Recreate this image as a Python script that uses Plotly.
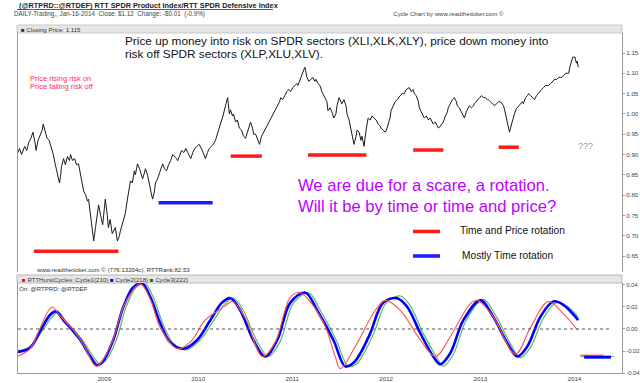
import plotly.graph_objects as go

# ---------------- data ----------------
price_dates = [
 "2008-02-01","2008-02-07","2008-02-15","2008-02-27","2008-03-06","2008-03-14","2008-03-22","2008-03-30",
 "2008-04-07","2008-04-11","2008-04-19","2008-04-27","2008-05-05","2008-05-09","2008-05-13","2008-05-21",
 "2008-05-24","2008-06-01","2008-06-09","2008-06-17","2008-06-25","2008-07-03","2008-07-11","2008-07-15",
 "2008-07-19","2008-07-27","2008-08-03","2008-08-11","2008-08-19","2008-08-23","2008-08-31","2008-09-08",
 "2008-09-15","2008-09-23","2008-10-01","2008-10-09","2008-10-13","2008-10-21","2008-10-28","2008-11-01",
 "2008-11-09","2008-11-17","2008-11-21","2008-11-28","2008-12-06","2008-12-10","2008-12-18","2008-12-26",
 "2009-01-01","2009-01-05","2009-01-13","2009-01-17","2009-01-24","2009-02-01","2009-02-05","2009-02-13",
 "2009-02-21","2009-03-01","2009-03-04","2009-03-12","2009-03-20","2009-03-24","2009-04-01","2009-04-09",
 "2009-04-13","2009-04-20","2009-04-28","2009-05-02","2009-05-10","2009-05-18","2009-05-26","2009-05-30",
 "2009-06-06","2009-06-10","2009-06-18","2009-06-26","2009-07-04","2009-07-08","2009-07-15","2009-07-19",
 "2009-07-27","2009-08-04","2009-08-12","2009-08-16","2009-08-23","2009-08-31","2009-09-08","2009-09-16",
 "2009-09-24","2009-10-02","2009-10-09","2009-10-13","2009-10-21","2009-10-29","2009-11-06","2009-11-14",
 "2009-11-21","2009-11-29","2009-12-03","2009-12-11","2009-12-19","2009-12-27",
 "2010-01-05","2010-01-17","2010-01-25","2010-01-29","2010-02-06","2010-02-13","2010-02-21","2010-03-01",
 "2010-03-09","2010-03-17","2010-03-24","2010-03-28","2010-04-05","2010-04-13","2010-04-21","2010-04-25",
 "2010-04-28","2010-05-02","2010-05-06","2010-05-14","2010-05-18","2010-05-26","2010-06-02","2010-06-10",
 "2010-06-18","2010-06-26","2010-07-04","2010-07-11","2010-07-19","2010-07-23","2010-07-31","2010-08-04",
 "2010-08-12","2010-08-20","2010-08-27","2010-09-04","2010-09-12","2010-09-20","2010-09-28","2010-10-05",
 "2010-10-13","2010-10-21","2010-10-29","2010-11-06","2010-11-13","2010-11-17","2010-11-25","2010-12-03",
 "2010-12-11","2010-12-19","2010-12-26",
 "2011-01-03","2011-01-11","2011-01-19","2011-01-23","2011-01-31","2011-02-03","2011-02-11","2011-02-19",
 "2011-02-23","2011-02-27","2011-03-07","2011-03-15","2011-03-22","2011-03-30","2011-04-03","2011-04-11",
 "2011-04-19","2011-04-26","2011-04-30","2011-05-08","2011-05-16","2011-05-20","2011-05-28","2011-06-04",
 "2011-06-12","2011-06-20","2011-06-24","2011-07-02","2011-07-10","2011-07-13","2011-07-21","2011-07-29",
 "2011-08-02","2011-08-10","2011-08-18","2011-08-25","2011-08-29","2011-09-06","2011-09-10","2011-09-18",
 "2011-09-25","2011-09-29","2011-10-07","2011-10-15","2011-10-23","2011-10-31","2011-11-07","2011-11-15",
 "2011-11-23","2011-12-01","2011-12-09","2011-12-12","2011-12-20","2011-12-28",
 "2012-01-02","2012-01-09","2012-01-16","2012-01-20","2012-01-28","2012-02-05","2012-02-13","2012-02-17",
 "2012-02-24","2012-03-03","2012-03-11","2012-03-19","2012-03-27","2012-03-31","2012-04-07","2012-04-15",
 "2012-04-19","2012-04-27","2012-05-05","2012-05-09","2012-05-16","2012-05-24","2012-05-28","2012-06-05",
 "2012-06-13","2012-06-20","2012-06-24","2012-07-02","2012-07-10","2012-07-18","2012-07-22","2012-07-29",
 "2012-08-06","2012-08-10","2012-08-18","2012-08-26","2012-08-29","2012-09-06","2012-09-14","2012-09-22",
 "2012-09-30","2012-10-03","2012-10-11","2012-10-19","2012-10-27","2012-10-31","2012-11-07","2012-11-15",
 "2012-11-19","2012-11-27","2012-12-05","2012-12-08","2012-12-16","2012-12-24",
 "2013-01-01","2013-01-05","2013-01-13","2013-01-20","2013-01-28","2013-02-01","2013-02-09","2013-02-17",
 "2013-02-25","2013-03-04","2013-03-12","2013-03-20","2013-03-24","2013-04-01","2013-04-05","2013-04-12",
 "2013-04-16","2013-04-20","2013-04-24","2013-04-28","2013-05-02","2013-05-09","2013-05-13","2013-05-21",
 "2013-05-29","2013-06-06","2013-06-13","2013-06-17","2013-06-25","2013-07-03","2013-07-07","2013-07-15",
 "2013-07-22","2013-07-30","2013-08-07","2013-08-15","2013-08-23","2013-08-27","2013-09-03","2013-09-11",
 "2013-09-19","2013-09-23","2013-10-01","2013-10-09","2013-10-16","2013-10-24","2013-11-01","2013-11-09",
 "2013-11-13","2013-11-21","2013-11-28","2013-12-06","2013-12-10","2013-12-14","2013-12-18","2013-12-22",
 "2013-12-26","2013-12-30","2014-01-03","2014-01-09","2014-01-12","2014-01-16",
]
price_vals = [
 0.905,0.915,0.900,0.920,0.910,0.930,0.940,0.955,
 0.930,0.910,0.935,0.950,0.960,0.975,0.965,0.950,
 0.940,0.935,0.920,0.900,0.875,0.855,0.830,0.845,
 0.870,0.890,0.875,0.895,0.885,0.900,0.885,0.890,
 0.875,0.877,0.850,0.820,0.810,0.800,0.785,0.790,
 0.750,0.720,0.687,0.720,0.760,0.776,0.750,0.727,
 0.765,0.790,0.750,0.720,0.740,0.705,0.710,0.720,
 0.687,0.700,0.710,0.730,0.745,0.755,0.790,0.815,
 0.835,0.830,0.860,0.850,0.877,0.865,0.850,0.840,
 0.855,0.865,0.850,0.820,0.800,0.790,0.810,0.830,
 0.840,0.855,0.870,0.877,0.865,0.860,0.875,0.885,
 0.900,0.895,0.890,0.885,0.900,0.910,0.905,0.915,
 0.905,0.895,0.890,0.905,0.915,0.920,
 0.925,0.910,0.895,0.890,0.905,0.915,0.920,0.925,
 0.935,0.955,0.965,0.975,0.990,1.010,1.030,1.040,
 1.025,1.000,1.010,0.995,1.000,0.980,0.985,0.965,
 0.960,0.945,0.940,0.955,0.970,0.980,0.965,0.950,
 0.950,0.935,0.925,0.945,0.955,0.965,0.975,0.980,
 0.990,1.000,1.010,1.020,1.030,1.040,1.035,1.045,
 1.055,1.060,1.055,
 1.065,1.070,1.075,1.070,1.085,1.090,1.100,1.115,
 1.105,1.090,1.080,1.085,1.090,1.080,1.085,1.075,
 1.070,1.055,1.050,1.040,1.030,1.008,1.015,1.005,
 0.990,1.000,1.020,1.040,1.030,1.025,1.035,1.020,
 1.000,0.985,0.960,0.935,0.925,0.945,0.960,0.955,
 0.935,0.945,0.920,0.960,0.990,0.985,0.995,0.990,
 0.985,0.975,0.970,0.965,0.960,0.955,
 0.960,0.975,0.990,1.008,1.020,1.030,1.035,1.040,
 1.045,1.050,1.050,1.060,1.065,1.065,1.055,1.060,
 1.050,1.045,1.030,1.015,1.005,0.995,0.990,0.995,
 0.985,0.990,0.985,0.975,0.980,0.970,0.965,0.970,
 0.975,0.980,0.995,1.005,1.015,1.025,1.035,1.040,
 1.030,1.020,1.015,1.005,0.995,0.990,1.005,1.015,
 1.020,1.015,1.020,1.025,1.030,1.035,
 1.040,1.045,1.040,1.040,1.035,1.035,1.030,1.025,
 1.020,1.025,1.030,1.030,1.027,1.020,1.010,0.990,
 0.975,0.965,0.955,0.965,0.975,0.985,1.000,1.013,
 1.020,1.025,1.030,1.025,1.040,1.045,1.050,1.045,
 1.040,1.035,1.045,1.050,1.055,1.060,1.065,1.070,
 1.070,1.070,1.075,1.080,1.085,1.085,1.090,1.090,
 1.090,1.095,1.100,1.100,1.100,1.115,1.125,1.135,
 1.140,1.140,1.140,1.125,1.130,1.115,
]

# rotation zones drawn on the price panel
zone_start = ["2008-04-03","2009-07-31","2010-05-07","2011-03-03","2012-04-15","2013-03-13"]
zone_end   = ["2009-02-25","2010-02-26","2010-09-05","2011-10-16","2012-08-10","2013-05-30"]
zone_level = [0.662, 0.781, 0.896, 0.899, 0.911, 0.918]
zone_kind  = ["price", "time", "price", "price", "price", "price"]

# Hurst cycles (lower panel)
c1_dates = ["2008-01-28","2008-03-19","2008-04-27","2008-06-12","2008-07-13","2008-09-10","2008-10-19",
            "2008-12-01","2009-01-24","2009-03-24","2009-05-21","2009-06-29","2009-08-07","2009-10-12",
            "2009-12-01","2010-01-28","2010-04-16","2010-05-13","2010-07-03","2010-09-07","2010-10-27",
            "2010-12-25","2011-02-01","2011-03-24","2011-05-10","2011-06-17","2011-07-07","2011-09-03",
            "2011-11-20","2011-12-29","2012-02-25","2012-05-13","2012-07-10","2012-09-06","2012-11-23",
            "2012-12-20","2013-02-20","2013-05-17","2013-07-14","2013-09-22","2013-11-19","2014-01-13"]
c1_vals = [-0.025,-0.018,0.001,0.020,0.012,-0.003,-0.017,
           -0.034,-0.016,0.024,0.041,0.027,0.001,-0.018,
           -0.012,0.008,0.021,0.025,0.010,-0.025,-0.012,
           0.029,0.033,0.021,0.002,-0.025,-0.036,-0.016,
           0.017,0.026,0.017,-0.010,-0.025,-0.007,0.023,
           0.026,0.011,-0.023,0.001,0.025,0.014,-0.001]

c2_dates = ["2008-01-28","2008-03-19","2008-04-27","2008-06-05","2008-06-28","2008-07-26","2008-08-30",
            "2008-09-30","2008-11-08","2008-12-05","2008-12-28","2009-02-05","2009-03-16","2009-04-24",
            "2009-05-29","2009-06-29","2009-08-07","2009-09-14","2009-11-04","2009-12-28","2010-02-17",
            "2010-04-04","2010-05-06","2010-06-13","2010-08-03","2010-09-18","2010-11-04","2010-12-25",
            "2011-02-21","2011-04-08","2011-06-10","2011-07-26","2011-08-26","2011-09-23","2011-10-31",
            "2011-12-21","2012-02-13","2012-03-23","2012-05-13","2012-07-02","2012-07-29","2012-09-06",
            "2012-10-27","2013-01-01","2013-02-20","2013-04-16","2013-05-25","2013-07-02","2013-08-22",
            "2013-10-11","2013-11-19","2014-01-16"]
c2_vals = [-0.021,-0.017,-0.002,0.013,0.016,0.008,-0.001,
           -0.010,-0.025,-0.033,-0.029,-0.010,0.020,0.038,
           0.041,0.029,0.005,-0.012,-0.018,-0.010,0.008,
           0.024,0.028,0.017,-0.010,-0.025,-0.010,0.024,
           0.033,0.017,-0.010,-0.034,-0.031,-0.022,-0.004,
           0.024,0.028,0.020,-0.004,-0.025,-0.032,-0.022,
           0.008,0.026,0.011,-0.013,-0.025,-0.016,0.011,
           0.025,0.022,0.008]

c3_dates = ["2008-01-28","2008-03-19","2008-05-05","2008-06-16","2008-07-09","2008-08-05","2008-09-10",
            "2008-10-11","2008-11-19","2008-12-16","2009-01-09","2009-02-17","2009-03-27","2009-05-05",
            "2009-06-09","2009-07-10","2009-08-18","2009-09-26","2009-11-16","2010-01-09","2010-02-28",
            "2010-04-16","2010-05-17","2010-06-25","2010-08-15","2010-09-30","2010-11-16","2011-01-05",
            "2011-03-05","2011-04-20","2011-06-21","2011-08-07","2011-09-07","2011-10-04","2011-11-12",
            "2012-01-02","2012-02-25","2012-04-04","2012-05-24","2012-07-14","2012-08-10","2012-09-18",
            "2012-11-07","2013-01-12","2013-03-04","2013-04-27","2013-06-05","2013-07-14","2013-09-03",
            "2013-10-23","2013-12-01","2014-01-16"]
c3_vals = [-0.020,-0.016,-0.002,0.012,0.015,0.007,-0.002,
           -0.011,-0.025,-0.032,-0.028,-0.010,0.020,0.038,
           0.041,0.029,0.004,-0.013,-0.019,-0.010,0.007,
           0.023,0.028,0.017,-0.010,-0.025,-0.011,0.023,
           0.033,0.017,-0.010,-0.034,-0.032,-0.023,-0.005,
           0.024,0.030,0.021,-0.004,-0.025,-0.034,-0.023,
           0.008,0.027,0.011,-0.013,-0.026,-0.017,0.010,
           0.024,0.021,0.011]

# projected cycle levels (stubs right of the last bar)
proj_start = ["2014-01-24", "2014-02-08", "2014-01-24"]
proj_end   = ["2014-04-24", "2014-05-23", "2014-06-03"]
proj_level = [-0.0238, -0.0256, -0.0250]

year_ticks = ["2009-01-01","2010-01-01","2011-01-01","2012-01-01","2013-01-01","2014-01-01"]
year_labels = ["2009","2010","2011","2012","2013","2014"]
price_ticks = [0.65,0.70,0.75,0.80,0.85,0.90,0.95,1.00,1.05,1.10,1.15]
cyc_ticks = [-0.04,-0.02,0.0,0.02,0.04]
cyc_labels = ["-0.04","-0.02","0.00","0.02","0.04"]

# ---------------- figure ----------------
FONT = "Liberation Sans, Arial, sans-serif"
W, H = 640, 383
L, R, T, B = 18, 18, 33, 10

def PX(x):
    return (x - L) / (W - L - R)

def PY(y):
    return (H - B - y) / (H - T - B)

RED = "#ff1a1a"
BLUE = "#1a1aff"
PURPLE = "#bf00ff"

fig = go.Figure()

fig.add_trace(go.Scatter(x=price_dates, y=price_vals, mode="lines",
                         line=dict(color="#1a1a1a", width=1), xaxis="x", yaxis="y",
                         hoverinfo="skip"))

for s, e, lv, k in zip(zone_start, zone_end, zone_level, zone_kind):
    fig.add_trace(go.Scatter(x=[s, e], y=[lv, lv], mode="lines",
                             line=dict(color=RED if k == "price" else BLUE, width=3.5),
                             xaxis="x", yaxis="y", hoverinfo="skip"))

fig.add_trace(go.Scatter(x=c3_dates, y=c3_vals, mode="lines",
                         line=dict(color="#5cb85c", width=1.2, shape="spline", smoothing=1.0),
                         xaxis="x2", yaxis="y2", hoverinfo="skip"))
fig.add_trace(go.Scatter(x=c2_dates, y=c2_vals, mode="lines",
                         line=dict(color="#0000ff", width=2.6, shape="spline", smoothing=1.0),
                         xaxis="x2", yaxis="y2", hoverinfo="skip"))
fig.add_trace(go.Scatter(x=c1_dates, y=c1_vals, mode="lines",
                         line=dict(color="#ff5050", width=1.1, shape="spline", smoothing=1.0),
                         xaxis="x2", yaxis="y2", hoverinfo="skip"))

proj_colors = ["#ff5050", "#0000ff", "#5cb85c"]
proj_widths = [1.2, 3, 1.2]
for i in [2, 0, 1]:
    fig.add_trace(go.Scatter(x=[proj_start[i], proj_end[i]], y=[proj_level[i]] * 2, mode="lines",
                             line=dict(color=proj_colors[i], width=proj_widths[i]),
                             xaxis="x2", yaxis="y2", hoverinfo="skip"))

xrange_ = ["2008-02-01", "2014-07-05"]
axis_common = dict(showgrid=False, zeroline=False, automargin=False, ticklabeloverflow="allow")
tickf = dict(size=6.2, color="#444", family=FONT)
fig.update_layout(
    width=W, height=H, autosize=False,
    margin=dict(l=L, r=R, t=T, b=B, pad=0, autoexpand=False),
    paper_bgcolor="white", plot_bgcolor="white",
    showlegend=False,
    font=dict(family=FONT, size=7, color="#444"),
    xaxis=dict(domain=[0, 1], anchor="y", range=xrange_, showticklabels=False,
               showline=False, ticks="", **axis_common),
    xaxis2=dict(domain=[0, 1], anchor="y2", range=xrange_, matches="x",
                showline=True, linecolor="#9a9a9a", linewidth=1,
                tickvals=year_ticks, ticktext=year_labels, ticks="", ticklabelstandoff=0,
                tickfont=tickf, **axis_common),
    yaxis=dict(domain=[PY(272), 1], anchor="x", side="right", range=[0.6106, 1.1993],
               tickvals=price_ticks, tickformat=".2f", ticks="outside", ticklen=2,
               tickcolor="#9a9a9a", showline=True, linecolor="#9a9a9a", linewidth=1, mirror=True,
               tickfont=tickf, **axis_common),
    yaxis2=dict(domain=[0, PY(283)], anchor="x2", side="right", range=[-0.04, 0.0418],
                tickvals=cyc_ticks, ticktext=cyc_labels, ticks="outside", ticklen=2,
                tickcolor="#9a9a9a", showline=True, linecolor="#9a9a9a", linewidth=1, mirror=True,
                tickfont=dict(size=5.9, color="#444", family=FONT), **axis_common),
)

shapes = [
    # header bars
    dict(type="rect", xref="paper", yref="paper", x0=PX(17), x1=PX(622), y0=PY(33), y1=PY(25),
         fillcolor="#e6e6e6", line=dict(color="#c8c8c8", width=1), layer="below"),
    dict(type="rect", xref="paper", yref="paper", x0=PX(17), x1=PX(622), y0=PY(283), y1=PY(275),
         fillcolor="#e6e6e6", line=dict(color="#b8b8b8", width=1), layer="below"),
    # title underline
    dict(type="line", xref="paper", yref="paper", x0=PX(17), x1=PX(273), y0=PY(9.5), y1=PY(9.5),
         line=dict(color="#333", width=0.8)),
    # zero line in cycle panel
    dict(type="line", xref="paper", yref="y2", x0=0, x1=PX(612), y0=0, y1=0,
         line=dict(color="#555", width=1, dash="dot")),
    # legend swatches
    dict(type="line", xref="paper", yref="paper", x0=PX(413), x1=PX(440), y0=PY(231.5), y1=PY(231.5),
         line=dict(color=RED, width=3.5)),
    dict(type="line", xref="paper", yref="paper", x0=PX(413), x1=PX(440), y0=PY(256), y1=PY(256),
         line=dict(color=BLUE, width=3.5)),
]
fig.update_layout(shapes=shapes)

def ann(x, y, text, size, color="#333", anchor="left", family=FONT):
    return dict(x=PX(x), y=PY(y), xref="paper", yref="paper", text=text, showarrow=False,
                xanchor=anchor, yanchor="middle", font=dict(size=size, color=color, family=family))

annotations = [
    ann(17, 5, "<b>(@RTPRD::@RTDEF) RTT SPDR Product Index/RTT SPDR Defensive Index</b>", 7.3, "#222"),
    ann(12, 14, "DAILY-Trading,, Jan-16-2014  Close: $1.12  Change: -$0.01  (-0.9%)", 6.3, "#444"),
    ann(391, 14, "Cycle Chart by www.readtheticker.com ©", 6.1, "#444"),
    ann(19, 29, "■ Closing Price: 1.115", 6.1, "#333"),
    ann(123, 40.5, "Price up money into risk on SPDR sectors (XLI,XLK,XLY), price down money into", 11.8, "#111"),
    ann(123, 54, "risk off SPDR sectors (XLP,XLU,XLV).", 11.8, "#111"),
    ann(28, 78, "Price rising risk on", 7.5, "#ff3333"),
    ann(28, 86.5, "Price falling risk off", 7.5, "#ff3333"),
    ann(576, 146, "???", 9, "#999"),
    ann(296, 185, "We are due for a scare, a rotation.", 16.6, PURPLE),
    ann(296, 206.5, "Will it be by time or time and price?", 16.6, PURPLE),
    ann(458, 230.5, "Time and Price rotation", 10.2, "#111"),
    ann(460, 255.5, "Mostly Time rotation", 10.2, "#111"),
    ann(34, 269, "www.readtheticker.com © (776:13204c), RTTRank:82.53", 6.1, "#333"),
    ann(20, 279.5, "<span style='color:#ff0000'>■</span> RTTHurstCycles: Cycle1(210) "
                   "<span style='color:#0000ff'>■</span> Cycle2(218) "
                   "<span style='color:#008000'>■</span> Cycle3(222)", 6.1, "#333"),
    ann(17, 288, "On: @RTPRD::@RTDEF", 6.1, "#333"),
]
fig.update_layout(annotations=annotations)

fig.write_html("out.html", config={"displayModeBar": False},
               post_script="document.body.style.margin='0';")
